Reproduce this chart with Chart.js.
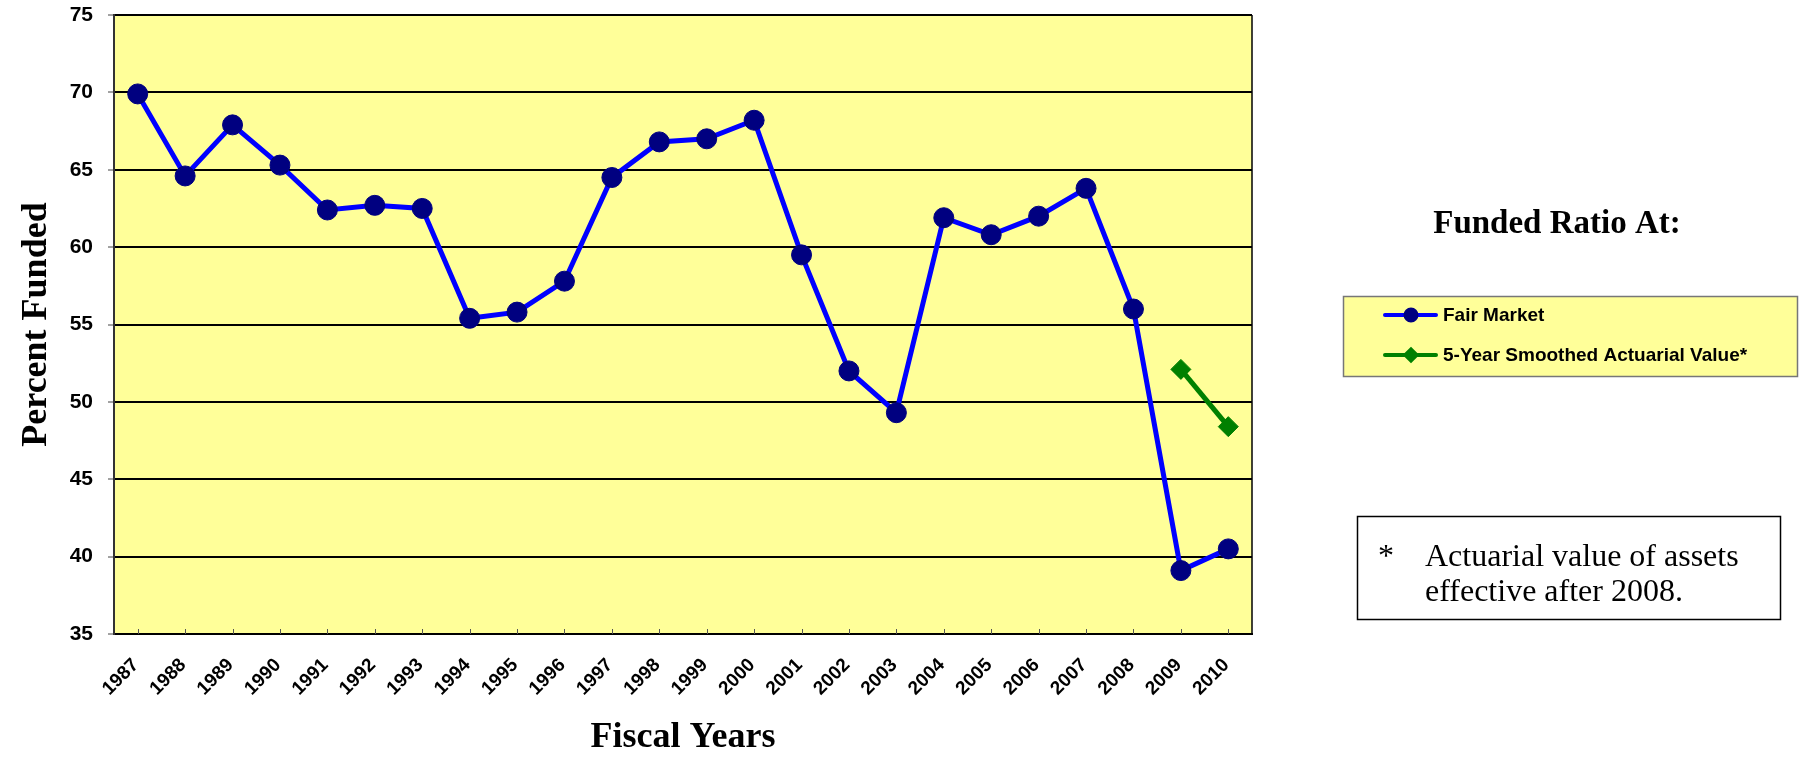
<!DOCTYPE html>
<html>
<head>
<meta charset="utf-8">
<script src="https://cdn.jsdelivr.net/npm/chart.js@4.4.0/dist/chart.umd.min.js"></script>
<style>
  html, body { margin: 0; padding: 0; background: #fff; }
  #wrap { width: 1802px; height: 760px; }
</style>
</head>
<body>
<div id="wrap"><canvas id="fundedChart" width="1802" height="760"></canvas></div>
<script>
// values
const fiscalYears = ['1987', '1988', '1989', '1990', '1991', '1992', '1993', '1994', '1995', '1996', '1997', '1998',
  '1999', '2000', '2001', '2002', '2003', '2004', '2005', '2006', '2007', '2008', '2009', '2010'];
const fairMarket = [69.9, 64.6, 67.9, 65.3, 62.4, 62.7, 62.5, 55.4, 55.8, 57.8, 64.5, 66.8,
  67.0, 68.2, 59.5, 52.0, 49.3, 61.9, 60.8, 62.0, 63.8, 56.0, 39.1, 40.5];
const smoothedActuarial = [null, null, null, null, null, null, null, null, null, null, null, null,
  null, null, null, null, null, null, null, null, null, null, 52.1, 48.4];
const percentTicks = [35, 40, 45, 50, 55, 60, 65, 70, 75];
const footnoteLines = ['Actuarial value of assets', 'effective after 2008.'];

const SANS = '"Liberation Sans", Arial, sans-serif';
const SERIF = '"Liberation Serif", "Times New Roman", serif';

// yellow plot area, right edge and the little inward ticks on the x axis
const plotFrame = {
  id: 'plotFrame',
  beforeDraw(chart) {
    const { ctx, chartArea: a } = chart;
    ctx.save();
    ctx.fillStyle = '#fff';
    ctx.fillRect(0, 0, chart.width, chart.height);
    ctx.fillStyle = '#FFFF99';
    ctx.fillRect(a.left, a.top, a.right - a.left, a.bottom - a.top);
    ctx.restore();
  },
  beforeDatasetsDraw(chart) {
    const { ctx, chartArea: a, scales: { x } } = chart;
    ctx.save();
    ctx.strokeStyle = '#000';
    ctx.lineWidth = 1.5;
    ctx.beginPath();
    ctx.moveTo(a.right, a.top);
    ctx.lineTo(a.right, a.bottom);
    ctx.stroke();
    ctx.strokeStyle = '#555';
    ctx.lineWidth = 1;
    x.ticks.forEach((t, i) => {
      const px = Math.round(x.getPixelForTick(i)) + 0.5;
      ctx.beginPath();
      ctx.moveTo(px, a.bottom);
      ctx.lineTo(px, a.bottom - 5);
      ctx.stroke();
    });
    ctx.restore();
  }
};

// heading, legend box and footnote on the right
const sidePanel = {
  id: 'sidePanel',
  afterDraw(chart) {
    const ctx = chart.ctx;
    ctx.save();
    ctx.fillStyle = '#000';
    ctx.font = 'bold 33px ' + SERIF;
    ctx.textAlign = 'center';
    ctx.textBaseline = 'alphabetic';
    ctx.fillText('Funded Ratio At:', 1557, 233);

    ctx.fillStyle = '#FFFF99';
    ctx.fillRect(1343, 296, 454, 80);
    ctx.strokeStyle = '#777';
    ctx.lineWidth = 1.5;
    ctx.strokeRect(1343.5, 296.5, 454, 80);

    chart.data.datasets.forEach((ds, i) => {
      const y = 315 + i * 40;
      ctx.strokeStyle = ds.borderColor;
      ctx.lineWidth = 4;
      ctx.lineCap = 'round';
      ctx.beginPath();
      ctx.moveTo(1385, y);
      ctx.lineTo(1436, y);
      ctx.stroke();
      ctx.fillStyle = ds.pointBackgroundColor;
      ctx.strokeStyle = ds.pointBorderColor;
      Chart.helpers.drawPoint(ctx, { pointStyle: ds.pointStyle, radius: 5.5, rotation: 0, borderWidth: 1 }, 1411, y);
      ctx.fillStyle = '#000';
      ctx.font = 'bold 19px ' + SANS;
      ctx.textAlign = 'left';
      ctx.textBaseline = 'middle';
      ctx.fillText(ds.label, 1443, y + 1);
    });

    ctx.strokeStyle = '#000';
    ctx.lineWidth = 1.5;
    ctx.strokeRect(1357.5, 516.5, 423, 103);
    ctx.fillStyle = '#000';
    ctx.font = '32px ' + SERIF;
    ctx.textAlign = 'left';
    ctx.textBaseline = 'alphabetic';
    ctx.fillText('*', 1378, 566);
    footnoteLines.forEach((line, i) => ctx.fillText(line, 1425, 566 + i * 35));
    ctx.restore();
  }
};

new Chart(document.getElementById('fundedChart'), {
  type: 'line',
  data: {
    labels: fiscalYears,
    datasets: [
      {
        label: 'Fair Market',
        data: fairMarket,
        borderColor: '#0000FF',
        borderWidth: 5,
        pointStyle: 'circle',
        pointRadius: 10,
        pointBorderWidth: 1,
        pointBackgroundColor: '#000080',
        pointBorderColor: '#000080',
        tension: 0
      },
      {
        label: '5-Year Smoothed Actuarial Value*',
        data: smoothedActuarial,
        borderColor: '#008000',
        borderWidth: 5,
        pointStyle: 'rectRot',
        pointRadius: 10,
        pointBorderWidth: 1,
        pointBackgroundColor: '#008000',
        pointBorderColor: '#008000',
        tension: 0
      }
    ]
  },
  options: {
    responsive: false,
    animation: false,
    devicePixelRatio: 1,
    events: [],
    layout: { padding: { top: 15, right: 550, left: 0, bottom: 0 } },
    plugins: {
      legend: { display: false },
      tooltip: { enabled: false }
    },
    scales: {
      x: {
        offset: true,
        afterFit: (s) => { s.height = 126; },
        grid: { display: true, drawOnChartArea: false, drawTicks: false },
        border: { color: '#000', width: 2 },
        ticks: {
          color: '#000',
          font: { family: SANS, size: 19, weight: 'bold' },
          maxRotation: 45,
          minRotation: 45,
          padding: 20,
          labelOffset: -2,
          autoSkip: false
        },
        title: {
          display: true,
          text: 'Fiscal Years',
          color: '#000',
          font: { family: SERIF, size: 36, weight: 'bold' },
          padding: { top: 0, bottom: 1 }
        }
      },
      y: {
        min: 35,
        max: 75,
        afterFit: (s) => {
          s.width = 114;
          s.paddingTop = 0;
          s.paddingBottom = 0;
        },
        afterBuildTicks: (s) => { s.ticks = percentTicks.map(v => ({ value: v })); },
        grid: { color: '#000', lineWidth: 2, tickLength: 6, tickColor: '#444', tickWidth: 1 },
        border: { color: '#333', width: 2 },
        ticks: {
          color: '#000',
          font: { family: SANS, size: 21, weight: 'bold' },
          padding: 15
        },
        title: {
          display: true,
          text: 'Percent Funded',
          color: '#000',
          font: { family: SERIF, size: 36, weight: 'bold' },
          padding: { top: 15, bottom: 0 }
        }
      }
    }
  },
  plugins: [plotFrame, sidePanel]
});
</script>
</body>
</html>
